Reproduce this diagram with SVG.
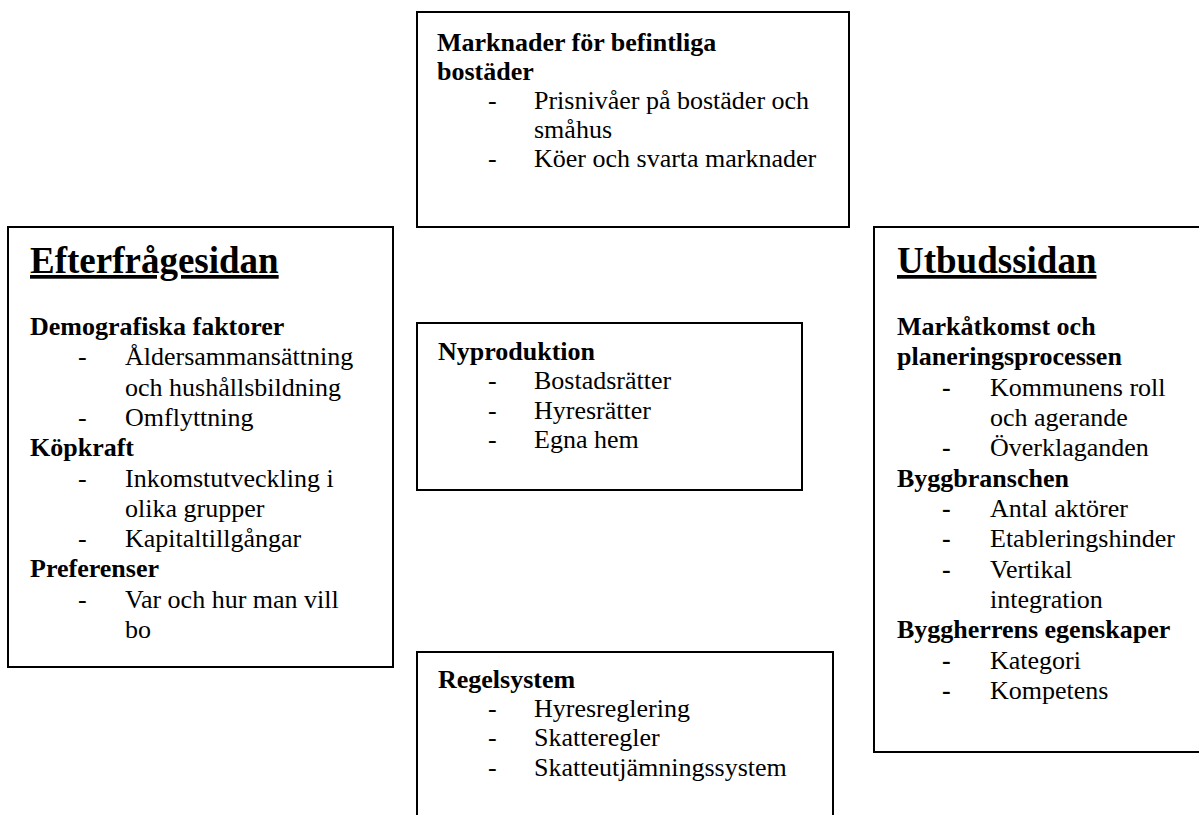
<svg xmlns="http://www.w3.org/2000/svg" width="1199" height="815" viewBox="0 0 1199 815">
<style>
.box{fill:#fff;stroke:#000;stroke-width:2}
text{font-family:"Liberation Serif","Times New Roman",serif;font-size:26px;fill:#000}
.b{font-weight:bold}
.h{font-weight:bold;font-size:37px;text-decoration:underline}
</style>
<rect width="1199" height="815" fill="#fff"/>
<g id="connectors"></g>
<g id="marknader">
<rect class="box" x="417" y="12" width="432" height="215"/>
<text class="b" x="437" y="51">Marknader för befintliga</text>
<text class="b" x="437" y="80">bostäder</text>
<text x="488" y="109">-</text><text x="534" y="109">Prisnivåer på bostäder och</text>
<text x="534" y="138">småhus</text>
<text x="488" y="167">-</text><text x="534" y="167">Köer och svarta marknader</text>
</g>
<g id="efterfragesidan">
<rect class="box" x="8" y="227" width="385" height="440"/>
<text class="h" x="30" y="273">Efterfrågesidan</text>
<text class="b" x="30" y="335">Demografiska faktorer</text>
<text x="78" y="365">-</text><text x="125" y="365">Åldersammansättning</text>
<text x="125" y="396">och hushållsbildning</text>
<text x="78" y="426">-</text><text x="125" y="426">Omflyttning</text>
<text class="b" x="30" y="456">Köpkraft</text>
<text x="78" y="487">-</text><text x="125" y="487">Inkomstutveckling i</text>
<text x="125" y="517">olika grupper</text>
<text x="78" y="547">-</text><text x="125" y="547">Kapitaltillgångar</text>
<text class="b" x="30" y="577">Preferenser</text>
<text x="78" y="608">-</text><text x="125" y="608">Var och hur man vill</text>
<text x="125" y="638">bo</text>
</g>
<g id="nyproduktion">
<rect class="box" x="417" y="323" width="385" height="167"/>
<text class="b" x="438" y="360">Nyproduktion</text>
<text x="488" y="389">-</text><text x="534" y="389">Bostadsrätter</text>
<text x="488" y="419">-</text><text x="534" y="419">Hyresrätter</text>
<text x="488" y="448">-</text><text x="534" y="448">Egna hem</text>
</g>
<g id="regelsystem">
<rect class="box" x="417" y="652" width="416" height="180"/>
<text class="b" x="438" y="688">Regelsystem</text>
<text x="488" y="717">-</text><text x="534" y="717">Hyresreglering</text>
<text x="488" y="746">-</text><text x="534" y="746">Skatteregler</text>
<text x="488" y="776">-</text><text x="534" y="776">Skatteutjämningssystem</text>
</g>
<g id="utbudssidan">
<rect class="box" x="874" y="227" width="340" height="525"/>
<text class="h" x="897" y="273">Utbudssidan</text>
<text class="b" x="897" y="335">Markåtkomst och</text>
<text class="b" x="897" y="365">planeringsprocessen</text>
<text class="b" x="942" y="396">-</text><text x="990" y="396">Kommunens roll</text>
<text x="990" y="426">och agerande</text>
<text class="b" x="942" y="456">-</text><text x="990" y="456">Överklaganden</text>
<text class="b" x="897" y="487">Byggbranschen</text>
<text class="b" x="942" y="517">-</text><text x="990" y="517">Antal aktörer</text>
<text class="b" x="942" y="547">-</text><text x="990" y="547">Etableringshinder</text>
<text class="b" x="942" y="578">-</text><text x="990" y="578">Vertikal</text>
<text x="990" y="608">integration</text>
<text class="b" x="897" y="638">Byggherrens egenskaper</text>
<text class="b" x="942" y="669">-</text><text x="990" y="669">Kategori</text>
<text class="b" x="942" y="699">-</text><text x="990" y="699">Kompetens</text>
</g>
</svg>
